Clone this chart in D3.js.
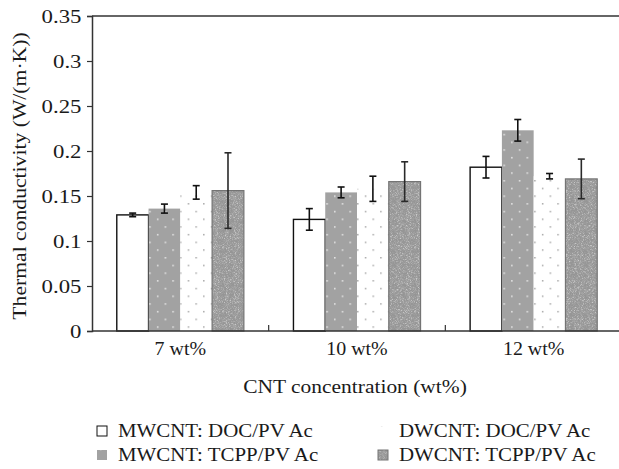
<!DOCTYPE html>
<html>
<head>
<meta charset="utf-8">
<script src="https://cdn.jsdelivr.net/npm/d3@7/dist/d3.min.js"></script>
<style>
  html, body { margin: 0; padding: 0; background: #fff; }
  svg { display: block; }
  text { font-family: "Liberation Serif", "Times New Roman", serif; fill: #1a1a1a; }
</style>
</head>
<body>
<svg id="chart" width="619" height="469"></svg>
<script>
// CNT loading levels along the x axis
const categories = ["7 wt%", "10 wt%", "12 wt%"];
// Sample series (legend order)
const seriesNames = ["MWCNT: DOC/PV Ac", "MWCNT: TCPP/PV Ac", "DWCNT: DOC/PV Ac", "DWCNT: TCPP/PV Ac"];
// Mean thermal conductivity, W/(m·K), one array per series across categories
const mwcntDoc  = [0.129, 0.124, 0.182];
const mwcntTcpp = [0.136, 0.154, 0.223];
const dwcntDoc  = [0.154, 0.158, 0.172];
const dwcntTcpp = [0.156, 0.166, 0.169];
// Standard deviations
const mwcntDocErr  = [0.002, 0.012, 0.012];
const mwcntTcppErr = [0.005, 0.006, 0.012];
const dwcntDocErr  = [0.0075, 0.014, 0.003];
const dwcntTcppErr = [0.042, 0.022, 0.022];
// Y axis ticks
const yTicks = [0, 0.05, 0.1, 0.15, 0.2, 0.25, 0.3, 0.35];
const yTickLabels = ["0", "0.05", "0.1", "0.15", "0.2", "0.25", "0.3", "0.35"];

const values = [mwcntDoc, mwcntTcpp, dwcntDoc, dwcntTcpp];
const errors = [mwcntDocErr, mwcntTcppErr, dwcntDocErr, dwcntTcppErr];
const fills = ["url(#plain)", "url(#grayDots)", "url(#whiteDots)", "url(#grain)"];

const svg = d3.select("#chart");
const plotL = 92, plotR = 622, plotT = 16, plotB = 331;

const x = d3.scaleBand().domain(categories).range([plotL, plotR]).padding(0);
const xs = d3.scaleBand().domain(seriesNames).range([0, x.bandwidth()]).paddingInner(0).paddingOuter(0.78);
const y = d3.scaleLinear().domain([0, 0.35]).range([plotB, plotT]);

// the serif face used here is a little narrower than the figure's type, so widen it
function placeText(sel, px, py, sx) {
  sel.attr("x", 0).attr("y", 0)
    .attr("transform", (d, i) => `translate(${typeof px === "function" ? px(d, i) : px},${typeof py === "function" ? py(d, i) : py}) scale(${sx},1)`);
}

// ---- fill patterns ----
const defs = svg.append("defs");
defs.append("pattern").attr("id", "plain").attr("patternUnits", "userSpaceOnUse")
  .attr("width", 10).attr("height", 10)
  .append("rect").attr("width", 10).attr("height", 10).attr("fill", "#fff");

const gd = defs.append("pattern").attr("id", "grayDots").attr("patternUnits", "userSpaceOnUse")
  .attr("width", 15.4).attr("height", 15.4);
gd.append("rect").attr("width", 15.4).attr("height", 15.4).attr("fill", "#a2a2a2");
gd.append("rect").attr("x", 3).attr("y", 3).attr("width", 1.4).attr("height", 1.4).attr("fill", "#f4f4f4");
gd.append("rect").attr("x", 10.7).attr("y", 10.7).attr("width", 1.4).attr("height", 1.4).attr("fill", "#f4f4f4");

const wd = defs.append("pattern").attr("id", "whiteDots").attr("patternUnits", "userSpaceOnUse")
  .attr("width", 15.4).attr("height", 15.4);
wd.append("rect").attr("width", 15.4).attr("height", 15.4).attr("fill", "#fff");
wd.append("rect").attr("x", 3).attr("y", 3).attr("width", 1.3).attr("height", 1.3).attr("fill", "#8a8a8a");
wd.append("rect").attr("x", 10.7).attr("y", 10.7).attr("width", 1.3).attr("height", 1.3).attr("fill", "#8a8a8a");

// speckled grain texture for the DWCNT: TCPP bars
const f = defs.append("filter").attr("id", "noise").attr("x", 0).attr("y", 0).attr("width", 1).attr("height", 1)
  .attr("filterUnits", "objectBoundingBox");
f.append("feTurbulence").attr("type", "fractalNoise").attr("baseFrequency", 0.9).attr("numOctaves", 2).attr("seed", 7).attr("result", "t");
f.append("feColorMatrix").attr("in", "t").attr("type", "matrix")
  .attr("values", "0 0 0 0 0.42  0 0 0 0 0.42  0 0 0 0 0.42  0 0 0 2.4 -0.95").attr("result", "darkSpots");
f.append("feColorMatrix").attr("in", "t").attr("type", "matrix")
  .attr("values", "0 0 0 0 0.66  0 0 0 0 0.66  0 0 0 0 0.66  0 0 0 -2.4 1.25").attr("result", "lightSpots");
f.append("feFlood").attr("flood-color", "#888888").attr("result", "base");
f.append("feMerge").selectAll("feMergeNode").data(["base", "lightSpots", "darkSpots"]).join("feMergeNode")
  .attr("in", d => d);

const gr = defs.append("pattern").attr("id", "grain").attr("patternUnits", "userSpaceOnUse")
  .attr("width", 64).attr("height", 64);
gr.append("rect").attr("width", 64).attr("height", 64).attr("fill", "#888").attr("filter", "url(#noise)");

// ---- frame ----
svg.append("line").attr("x1", plotL).attr("x2", plotR).attr("y1", plotT).attr("y2", plotT)
  .attr("stroke", "#333").attr("stroke-width", 1.5);

// bars
const barLayer = svg.append("g");
seriesNames.forEach((s, si) => {
  const items = categories.map((c, ci) => ({ c, v: values[si][ci], e: errors[si][ci] }));
  barLayer.append("g").selectAll("rect").data(items).join("rect")
    .attr("x", d => x(d.c) + xs(s))
    .attr("y", d => y(d.v))
    .attr("width", xs.bandwidth())
    .attr("height", d => y(0) - y(d.v))
    .attr("fill", fills[si])
    .attr("stroke", si === 0 ? "#111" : si === 3 ? "#747474" : "none")
    .attr("stroke-width", si === 0 ? 1.4 : 1.2);
});

// error bars
seriesNames.forEach((s, si) => {
  const items = categories.map((c, ci) => ({ c, v: values[si][ci], e: errors[si][ci] }));
  const eg = svg.append("g").selectAll("g").data(items).join("g")
    .attr("transform", d => `translate(${x(d.c) + xs(s) + xs.bandwidth() / 2},0)`)
    .attr("stroke", si === 3 ? "#2a2a2a" : "#111").attr("stroke-width", 1.6);
  eg.append("line").attr("y1", d => y(d.v + d.e)).attr("y2", d => y(d.v - d.e));
  eg.append("line").attr("x1", -3.5).attr("x2", 3.5).attr("y1", d => y(d.v + d.e)).attr("y2", d => y(d.v + d.e));
  eg.append("line").attr("x1", -3.5).attr("x2", 3.5).attr("y1", d => y(d.v - d.e)).attr("y2", d => y(d.v - d.e));
});

// y axis
const yAxis = d3.axisLeft(y).tickValues(yTicks).tickSize(5).tickPadding(6)
  .tickFormat((d, i) => yTickLabels[i]);
const ya = svg.append("g").attr("transform", `translate(${plotL},0)`).call(yAxis);
ya.select(".domain").attr("stroke", "#333").attr("stroke-width", 1.5);
ya.selectAll(".tick line").attr("stroke", "#333").attr("stroke-width", 1.2);
ya.selectAll(".tick text").attr("font-size", 19).attr("font-family", "Liberation Serif")
  .attr("fill", "#1a1a1a").attr("dy", "0.34em")
  .call(placeText, -10.5, 0, 1.2);

// x axis: baseline with separator ticks between groups
svg.append("line").attr("x1", plotL).attr("x2", plotR).attr("y1", plotB).attr("y2", plotB)
  .attr("stroke", "#333").attr("stroke-width", 1.5);
svg.append("g").selectAll("line").data(categories.slice(1)).join("line")
  .attr("x1", d => x(d)).attr("x2", d => x(d)).attr("y1", plotB).attr("y2", plotB - 6)
  .attr("stroke", "#333").attr("stroke-width", 1.2);
svg.append("g").selectAll("text").data(categories).join("text")
  .attr("text-anchor", "middle").attr("font-size", 19).text(d => d)
  .call(placeText, d => x(d) + x.bandwidth() / 2, 355, 1.05);

// axis titles
svg.append("text").attr("text-anchor", "middle").attr("font-size", 19)
  .text("CNT concentration (wt%)")
  .call(placeText, 355, 393, 1.13);
svg.append("text").attr("text-anchor", "middle").attr("font-size", 19)
  .attr("transform", "translate(26,176) rotate(-90) scale(1.14,1)")
  .text("Thermal conductivity (W/(m·K))");

// legend
const legendPos = [[97, 437], [97, 461], [378, 437], [378, 461]];
const lg = svg.append("g").selectAll("g").data(seriesNames).join("g")
  .attr("transform", (d, i) => `translate(${legendPos[i][0]},${legendPos[i][1]})`);
lg.append("rect").attr("x", 0).attr("y", -11).attr("width", 10).attr("height", 10)
  .attr("fill", (d, i) => fills[i])
  .attr("stroke", (d, i) => i === 0 ? "#111" : i === 3 ? "#747474" : "none").attr("stroke-width", 1);
lg.append("text").attr("font-size", 19).text(d => d)
  .call(placeText, 21, 0, 1.1);
</script>
</body>
</html>
